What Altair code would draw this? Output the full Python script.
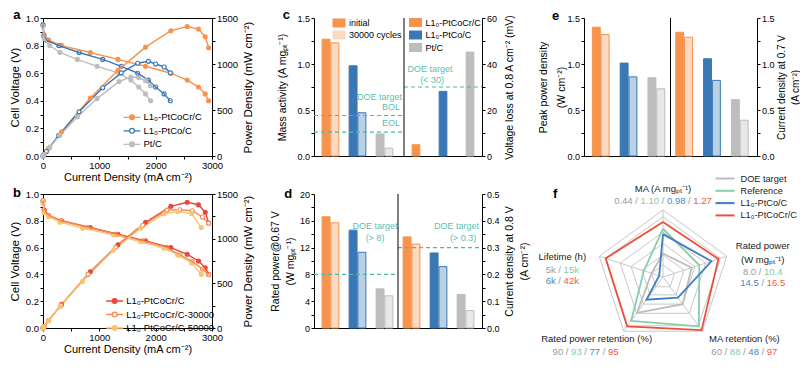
import altair as alt
import numpy as np
import pandas as pd

FONT = "Liberation Sans"

ORANGE = "#F7934C"
BLUE = "#3A77B5"
GRAY = "#BDBDBD"
TEAL = "#4DB8A7"
TEAL_TXT = "#5CC0B1"
RED_B = "#E8493B"
ORG_B = "#F58C55"
YEL_B = "#F9C46F"
R_GRID = "#C8C8C8"
R_GRAY = "#BDBDBD"
R_GREEN = "#86CFAA"
R_BLUE = "#3F7EC4"
R_RED = "#EE4F3B"
T_GRAY = "#9A9A9A"
T_GREEN = "#82CCA6"
T_BLUE = "#4A86C8"
T_RED = "#EE5A45"

# ------------------------------------------------------------------ data
catalysts = ["L1₀-PtCoCr/C", "L1₀-PtCo/C", "Pt/C"]
aging = ["L1₀-PtCoCr/C", "L1₀-PtCoCr/C-30000", "L1₀-PtCoCr/C-50000"]

# panel a / b polarization + power density curves
ptcocr_i = [0, 20, 100, 330, 840, 1330, 1820, 2270, 2560, 2760, 2880, 2940]
ptcocr_v = [0.95, 0.88, 0.84, 0.80, 0.75, 0.70, 0.65, 0.60, 0.55, 0.50, 0.45, 0.40]
ptcocr_p = [0, 18, 84, 264, 630, 931, 1183, 1362, 1408, 1380, 1296, 1176]
ptco_i = [0, 15, 60, 280, 640, 1060, 1390, 1680, 1870, 2000, 2150, 2260]
ptco_v = [0.95, 0.87, 0.84, 0.80, 0.75, 0.70, 0.65, 0.60, 0.55, 0.50, 0.45, 0.40]
ptco_p = [0, 13, 50, 224, 480, 742, 904, 1008, 1029, 1000, 968, 904]
pt_i = [0, 20, 120, 300, 610, 960, 1350, 1560, 1700, 1820, 1910]
pt_v = [0.94, 0.85, 0.80, 0.75, 0.70, 0.65, 0.60, 0.55, 0.50, 0.45, 0.40]
pt_p = [0, 17, 96, 225, 427, 624, 810, 858, 850, 819, 764]
c30k_i = [0, 20, 100, 320, 800, 1290, 1770, 2200, 2430, 2650, 2830, 2940]
c30k_v = [0.95, 0.87, 0.84, 0.80, 0.75, 0.70, 0.65, 0.60, 0.545, 0.495, 0.44, 0.40]
c30k_p = [0, 17, 84, 256, 600, 903, 1151, 1320, 1324, 1313, 1243, 1173]
c50k_i = [0, 20, 100, 300, 700, 1250, 1730, 2150, 2390, 2640, 2810]
c50k_v = [0.93, 0.86, 0.83, 0.79, 0.745, 0.695, 0.645, 0.595, 0.545, 0.485, 0.40]
c50k_p = [0, 17, 83, 237, 522, 869, 1116, 1279, 1303, 1280, 1124]

# panel c
ma_initial = [1.27, 0.98, 0.24]
ma_30k = [1.23, 0.47, 0.085]
vloss = [4.9, 28.1, 45.2]
ma_doe = [0.44, 0.26]
vloss_doe = [30]
# panel d
rated_initial = [16.6, 14.6, 5.85]
rated_30k = [15.7, 11.3, 4.8]
j08_initial = [0.34, 0.28, 0.125]
j08_30k = [0.313, 0.229, 0.065]
rated_doe = [8]
j08_doe = [0.3]
# panel e
ppd_initial = [1.40, 1.01, 0.85]
ppd_30k = [1.32, 0.86, 0.73]
j07_initial = [1.345, 1.057, 0.613]
j07_30k = [1.291, 0.822, 0.389]

# panel f radar (normalised radius per axis)
radar_axes = ["MA", "Rated power", "MA retention", "Rated power retention", "Lifetime"]
radar_angles = [90, 18, -54, -126, 162]
radar_series = ["DOE target", "Reference", "L1₀-PtCo/C", "L1₀-PtCoCr/C"]
r_doe = [0.35, 0.45, 0.5, 0.66, 0.18]
r_ref = [0.72, 0.57, 0.91, 0.81, 0.30]
r_ptco = [0.64, 0.76, 0.38, 0.42, 0.06]
r_ptcocr = [0.82, 0.87, 0.98, 0.91, 0.90]
grid_levels = [0.18, 0.33, 0.5, 0.67, 0.9, 1.0]
val_ma = ["0.44", "1.10", "0.98", "1.27"]
val_rp = ["8.0", "10.4", "14.5", "16.5"]
val_mar = ["60", "88", "48", "97"]
val_rpr = ["90", "93", "77", "95"]
val_life = ["5k", "15k", "6k", "42k"]


# ------------------------------------------------------------------ helpers
def num_axis(orient, values, step, fmt, title, tp, title_fs, label_fs, right=False, lh=None,
             tx=None, ty=None):
    expr = (f"abs(datum.value/{step} - round(datum.value/{step})) < 1e-6 ? "
            f"format(datum.value, '{fmt}') : ''")
    kw = dict(orient=orient, values=values, labelExpr=expr, title=title, titlePadding=tp,
              titleFontSize=title_fs, labelFontSize=label_fs, labelFlush=False,
              labelOverlap=False)
    if right:
        kw.update(titleAngle=-90, titleBaseline="top")
    if lh:
        kw["titleLineHeight"] = lh
    if tx is not None:
        kw.update(titleX=tx, titleY=ty, titleAlign="center", titleAngle=-90,
                  titleBaseline="top" if right else "bottom")
    return alt.Axis(**kw)


def letter(ch, x, y):
    return alt.Chart(pd.DataFrame({"t": [ch]})).mark_text(
        font=FONT, fontSize=13, fontWeight="bold", align="left",
        baseline="alphabetic", color="black"
    ).encode(x=alt.value(x), y=alt.value(y), text="t:N")


LINE_SYM = ("M-1.62,0L-0.46,0M0.46,0L1.62,0M-0.46,0A0.46,0.46 0 1 0 0.46,0"
            "A0.46,0.46 0 1 0 -0.46,0Z")
RECT_SYM = "M-1.3,-0.9H1.3V0.9H-1.3Z"


def curves_df(names, curves):
    rows = []
    for name, (I, V, P) in zip(names, curves):
        for i, v, p in zip(I, V, P):
            rows.append({"series": name, "I": i, "V": v, "P": p})
    return pd.DataFrame(rows)


def polar_panel(df, names, strokes, fills, H, let, let_xy, leg_xy):
    ss = alt.Scale(domain=names, range=strokes)
    fs = alt.Scale(domain=names, range=fills)
    leg = alt.Legend(orient="none", legendX=leg_xy[0], legendY=leg_xy[1], title=None,
                     symbolType=LINE_SYM, symbolSize=110, symbolStrokeWidth=1.3,
                     labelFontSize=9.5, labelOffset=5.5, rowPadding=1.5, padding=0,
                     labelColor="black")
    x = alt.X("I:Q", scale=alt.Scale(domain=[0, 3000], nice=False),
              axis=num_axis("bottom", list(range(0, 3001, 500)), 1000, "d",
                            "Current Density (mA cm⁻²)", 1.5, 11, 9.5))
    vs = alt.Scale(domain=[0, 1], nice=False)
    ps = alt.Scale(domain=[0, 1500], nice=False)
    yv = alt.Y("V:Q", scale=vs,
               axis=num_axis("left", [round(0.1 * i, 1) for i in range(11)], 0.2, ".1f",
                             "Cell Voltage (V)", 5, 11.5, 9.5))
    yv0 = alt.Y("V:Q", scale=vs, axis=None)
    yp = alt.Y("P:Q", scale=ps,
               axis=num_axis("right", list(range(0, 1501, 250)), 500, "d",
                             "Power Density (mW cm⁻²)", 4.5, 11.5, 9.5, right=True))
    yp0 = alt.Y("P:Q", scale=ps, axis=None)
    base = alt.Chart(df)

    def pts(y):
        return base.mark_point(shape="circle", filled=True, size=16, strokeWidth=1.1,
                               opacity=1).encode(
            x=x, y=y,
            stroke=alt.Stroke("series:N", scale=ss, legend=leg),
            fill=alt.Fill("series:N", scale=fs, legend=leg))

    def lines(y):
        return base.mark_line(strokeWidth=1.4).encode(
            x=x, y=y, stroke=alt.Stroke("series:N", scale=ss, legend=leg))

    return alt.layer(pts(yv0), lines(yv), lines(yp), pts(yp0),
                     letter(let, *let_xy)).resolve_scale(y="independent").properties(
        width=169, height=H, view=alt.ViewBackground(stroke="black", strokeWidth=1))


SLOTS = ["L0", "L1", "L2", "R0", "R1", "R2"]
CONDS = ["initial", "30000 cycles"]
XSCALE = alt.Scale(domain=SLOTS, paddingInner=0.38, paddingOuter=0.3)
XAXIS = alt.Axis(labels=False, ticks=False, title=None, domain=True)
FILL_SCALE = alt.Scale(domain=catalysts, range=[ORANGE, BLUE, GRAY])
OP_SCALE = alt.Scale(domain=CONDS, range=[1.0, 0.35])
OFF_SCALE = alt.Scale(domain=CONDS, paddingInner=0.1)


def bar_df(side, init, after=None):
    rows = []
    for j, s in enumerate(catalysts):
        rows.append({"slot": f"{side}{j}", "series": s, "cond": CONDS[0], "value": init[j]})
        if after is not None:
            rows.append({"slot": f"{side}{j}", "series": s, "cond": CONDS[1], "value": after[j]})
    return pd.DataFrame(rows)


def bar_layer(df, yenc, paired=True, fill_legend=None, shift=0):
    enc = dict(x=alt.X("slot:N", scale=XSCALE, axis=XAXIS), y=yenc,
               fill=alt.Fill("series:N", scale=FILL_SCALE, legend=fill_legend),
               stroke=alt.Stroke("series:N", scale=FILL_SCALE, legend=fill_legend))
    if paired:
        enc["xOffset"] = alt.XOffset("cond:N", scale=OFF_SCALE)
        enc["fillOpacity"] = alt.FillOpacity("cond:N", scale=OP_SCALE, legend=None)
        mark = alt.Chart(df).mark_bar(strokeWidth=1)
    else:
        mark = alt.Chart(df).mark_bar(strokeWidth=1, width={"band": 0.46}, xOffset=shift)
    return mark.encode(**enc)


def doe_rule(vals, scale, x0, x1):
    return alt.Chart(pd.DataFrame({"value": vals})).mark_rule(
        color=TEAL, strokeDash=[4, 3], strokeWidth=1.2
    ).encode(y=alt.Y("value:Q", scale=scale, axis=None), x=alt.value(x0), x2=alt.value(x1))


def note(text, val, scale, x, dy, align="center"):
    return alt.Chart(pd.DataFrame({"value": [val]})).mark_text(
        font=FONT, fontSize=9, color=TEAL_TXT, align=align, baseline="middle", dy=dy
    ).encode(y=alt.Y("value:Q", scale=scale, axis=None), x=alt.value(x), text=alt.value(text))


def divider(x, H):
    return alt.Chart(pd.DataFrame({"d": [0]})).mark_rule(color="black", strokeWidth=1).encode(
        x=alt.value(x), y=alt.value(0), y2=alt.value(H))


ROW1_H = 138
ROW2_H = 134

# ------------------------------------------------------------------ panel a
df_a = curves_df(catalysts, [(ptcocr_i, ptcocr_v, ptcocr_p), (ptco_i, ptco_v, ptco_p),
                             (pt_i, pt_v, pt_p)])
pa = polar_panel(df_a, catalysts, [ORANGE, BLUE, GRAY], [ORANGE, "white", GRAY], ROW1_H,
                 "a", (-29.7, 1.3), (83, 93.3))

# ------------------------------------------------------------------ panel b
df_b = curves_df(aging, [(ptcocr_i, ptcocr_v, ptcocr_p), (c30k_i, c30k_v, c30k_p),
                         (c50k_i, c50k_v, c50k_p)])
pb = polar_panel(df_b, aging, [RED_B, ORG_B, YEL_B], [RED_B, "white", YEL_B], ROW2_H,
                 "b", (-30, 3), (65.7, 101))

# ------------------------------------------------------------------ panel c
Wc, Hc = 168, ROW1_H
DIV_C = 90
sc_l = alt.Scale(domain=[0, 1.5], nice=False)
sc_r = alt.Scale(domain=[0, 60], nice=False)
yl = alt.Y("value:Q", scale=sc_l,
           axis=num_axis("left", [0.25 * i for i in range(7)], 0.5, ".1f",
                         "Mass activity (A mgₚₜ⁻¹)", 9, 10.5, 9, tx=-27, ty=Hc / 2))
yr = alt.Y("value:Q", scale=sc_r,
           axis=num_axis("right", list(range(0, 61, 10)), 20, "d",
                         "Voltage loss at 0.8 A cm⁻² (mV)", 7, 10.5, 9, right=True,
                         tx=22, ty=Hc / 2))
op_leg = alt.Legend(orient="none", legendX=19.5, legendY=-0.5, title=None,
                    symbolType=RECT_SYM, symbolSize=100, symbolFillColor=ORANGE,
                    symbolStrokeColor=ORANGE, symbolStrokeWidth=1, labelFontSize=9,
                    labelOffset=4.5, rowPadding=-4.5, padding=0, labelColor="black")
fill_leg = alt.Legend(orient="none", legendX=DIV_C + 6.5, legendY=-0.5, title=None,
                      symbolType=RECT_SYM, symbolSize=100, symbolStrokeWidth=0,
                      labelFontSize=9, labelOffset=5, rowPadding=2.5, padding=0,
                      labelColor="black")
op_key = alt.Chart(pd.DataFrame({"cond": CONDS})).mark_point(
    filled=True, size=0, color=ORANGE
).encode(x=alt.value(0), y=alt.value(0),
         opacity=alt.Opacity("cond:N", scale=OP_SCALE, legend=op_leg))
pc = alt.layer(
    bar_layer(bar_df("L", ma_initial, ma_30k), yl, True, fill_leg),
    bar_layer(bar_df("R", vloss), yr, False, fill_leg, shift=4.5),
    doe_rule(ma_doe, sc_l, 0, DIV_C),
    note("DOE target", ma_doe[0], sc_l, DIV_C - 2, -19, "right"),
    note("BOL", ma_doe[0], sc_l, DIV_C - 4, -9, "right"),
    note("EOL", ma_doe[1], sc_l, DIV_C - 4, -8.7, "right"),
    doe_rule(vloss_doe, sc_r, DIV_C, Wc),
    note("DOE target", vloss_doe[0], sc_r, DIV_C + 26, -18),
    note("(< 30)", vloss_doe[0], sc_r, DIV_C + 28, -7.5),
    divider(DIV_C, Hc),
    op_key,
    letter("c", -31.3, 1.3),
).resolve_scale(y="independent").properties(width=Wc, height=Hc)

# ------------------------------------------------------------------ panel d
Wd, Hd = 168, ROW2_H
sd_l = alt.Scale(domain=[0, 20], nice=False)
sd_r = alt.Scale(domain=[0, 0.5], nice=False)
ydl = alt.Y("value:Q", scale=sd_l,
            axis=num_axis("left", list(range(0, 21, 2)), 4, "d",
                          ["Rated power@0.67 V", "(W mgₚₜ⁻¹)"], 4, 10.5, 9, lh=15,
                          tx=-33.5, ty=Hd / 2))
ydr = alt.Y("value:Q", scale=sd_r,
            axis=num_axis("right", [round(0.05 * i, 2) for i in range(11)], 0.1, ".1f",
                          ["Current density at 0.8 V", "(A cm⁻²)"], 4, 10.5, 9,
                          right=True, lh=15, tx=22.5, ty=Hd / 2))
pdd = alt.layer(
    bar_layer(bar_df("L", rated_initial, rated_30k), ydl),
    bar_layer(bar_df("R", j08_initial, j08_30k), ydr),
    doe_rule(rated_doe, sd_l, 0, Wd / 2),
    note("DOE target", rated_doe[0], sd_l, 61, -48),
    note("(> 8)", rated_doe[0], sd_l, 61, -36),
    doe_rule(j08_doe, sd_r, Wd / 2, Wd),
    note("DOE target", j08_doe[0], sd_r, Wd / 2 + 58.6, -22),
    note("(> 0.3)", j08_doe[0], sd_r, Wd / 2 + 65, -10),
    divider(Wd / 2, Hd),
    letter("d", -29.7, 3.5),
).resolve_scale(y="independent").properties(width=Wd, height=Hd)

# ------------------------------------------------------------------ panel e
We, He = 173, ROW1_H
se = alt.Scale(domain=[0, 1.5], nice=False)
se2 = alt.Scale(domain=[0, 1.5], nice=False)
yel = alt.Y("value:Q", scale=se,
            axis=num_axis("left", [0.25 * i for i in range(7)], 0.5, ".1f",
                          ["Peak power density", "(W cm⁻²)"], 3, 10.5, 9, lh=18,
                          tx=-35.75, ty=He / 2))
yer = alt.Y("value:Q", scale=se2,
            axis=num_axis("right", [0.25 * i for i in range(7)], 0.5, ".1f",
                          ["Current density at 0.7 V", "(A cm⁻²)"], 1, 10, 9,
                          right=True, lh=14, tx=19, ty=He / 2))
pe = alt.layer(
    bar_layer(bar_df("L", ppd_initial, ppd_30k), yel),
    bar_layer(bar_df("R", j07_initial, j07_30k), yer),
    divider(We / 2, He),
    letter("e", -32, 2),
).resolve_scale(y="independent").properties(width=We, height=He)

# ------------------------------------------------------------------ panel f (radar)
Wf, Hf = 173, ROW2_H
R_PX = 67.0
CX, CY = 79.0, 83.0
fx = alt.Scale(domain=[-CX / R_PX, (Wf - CX) / R_PX], nice=False, zero=False)
fy = alt.Scale(domain=[-(Hf - CY) / R_PX, CY / R_PX], nice=False, zero=False)
ang = np.deg2rad(radar_angles)
vx, vy = np.cos(ang), np.sin(ang)

ring_rows = []
for lv in grid_levels:
    for k in range(6):
        ring_rows.append({"ring": lv, "k": k, "x": lv * vx[k % 5], "y": lv * vy[k % 5]})
ring_df = pd.DataFrame(ring_rows)
spoke_df = pd.DataFrame({"x": 0.0, "y": 0.0, "x2": vx, "y2": vy})

poly_rows = []
for name, rad in zip(radar_series, [r_doe, r_ref, r_ptco, r_ptcocr]):
    for k in range(6):
        poly_rows.append({"series": name, "k": k, "x": rad[k % 5] * vx[k % 5],
                          "y": rad[k % 5] * vy[k % 5]})
poly_df = pd.DataFrame(poly_rows)

LBL_FS = 9.5
# (axis index, dx px, dy px, text)
title_specs = [
    (0, 0, -21, "MA (A mgₚₜ⁻¹)"),
    (1, 36, -9.8, "Rated power"),
    (1, 36, 4.2, "(W mgₚₜ⁻¹)"),
    (2, 42, 8, "MA retention (%)"),
    (3, -27, 8, "Rated power retention (%)"),
    (4, -37, 0.5, "Lifetime (h)"),
]
title_df = pd.DataFrame([{"x": vx[i] + dx / R_PX, "y": vy[i] - dy / R_PX, "t": t}
                         for i, dx, dy, t in title_specs])

val_colors = [T_GRAY, T_GREEN, T_BLUE, T_RED]
value_specs = [
    (0, 0, -9, list(zip(val_ma, val_colors))),
    (1, 36, 15.7, list(zip(val_rp[:2], val_colors[:2]))),
    (1, 36, 27.2, list(zip(val_rp[2:], val_colors[2:]))),
    (2, 42, 20.5, list(zip(val_mar, val_colors))),
    (3, -38, 20.5, list(zip(val_rpr, val_colors))),
    (4, -37, 13.5, list(zip(val_life[:2], val_colors[:2]))),
    (4, -37, 24.5, list(zip(val_life[2:], val_colors[2:]))),
]
EM = {".": 0.278, " ": 0.278, "/": 0.278, "k": 0.5}


def tw(s):
    return sum(EM.get(ch, 0.556) for ch in s) * LBL_FS


seg_rows = []
sep_w = tw(" / ")
for i, dx, dy, items in value_specs:
    total = sum(tw(t) for t, _ in items) + sep_w * (len(items) - 1)
    cur = dx - total / 2
    for j, (t, col) in enumerate(items):
        if j > 0:
            seg_rows.append({"x": vx[i] + (cur + tw(" ")) / R_PX, "y": vy[i] - dy / R_PX,
                             "t": "/", "c": T_GRAY})
            cur += sep_w
        seg_rows.append({"x": vx[i] + cur / R_PX, "y": vy[i] - dy / R_PX, "t": t, "c": col})
        cur += tw(t)
seg_df = pd.DataFrame(seg_rows)

FX = lambda f: alt.X(f, scale=fx, axis=None)
FY = lambda f: alt.Y(f, scale=fy, axis=None)

rings = alt.Chart(ring_df).mark_line(color=R_GRID, strokeWidth=1).encode(
    x=FX("x:Q"), y=FY("y:Q"), detail="ring:N", order="k:Q")
spokes = alt.Chart(spoke_df).mark_rule(color=R_GRID, strokeWidth=1).encode(
    x=FX("x:Q"), y=FY("y:Q"), x2="x2:Q", y2="y2:Q")
f_leg = alt.Legend(orient="none", legendX=135, legendY=-21.5, title=None,
                   symbolType="M-1.9,0H1.9", symbolSize=100, symbolStrokeWidth=2,
                   labelFontSize=9.2, labelOffset=9.5, rowPadding=0.3, padding=0,
                   labelColor="#222222")
polys = alt.Chart(poly_df).mark_line(strokeWidth=1.8).encode(
    x=FX("x:Q"), y=FY("y:Q"), order="k:Q",
    stroke=alt.Stroke("series:N", scale=alt.Scale(domain=radar_series,
                                                   range=[R_GRAY, R_GREEN, R_BLUE, R_RED]),
                      legend=f_leg))
titles = alt.Chart(title_df).mark_text(font=FONT, fontSize=LBL_FS, color="#222222",
                                       align="center", baseline="middle").encode(
    x=FX("x:Q"), y=FY("y:Q"), text="t:N")
segs = alt.Chart(seg_df).mark_text(font=FONT, fontSize=LBL_FS, align="left",
                                   baseline="middle").encode(
    x=FX("x:Q"), y=FY("y:Q"), text="t:N", color=alt.Color("c:N", scale=None))
pf = alt.layer(rings, spokes, polys, titles, segs, letter("f", -31, 3.5)).properties(
    width=Wf, height=Hf)

# ------------------------------------------------------------------ assemble
chart = alt.concat(pa, pc, pe, pb, pdd, pf, columns=3,
                   spacing={"row": 38, "column": 102}, bounds="flush", align="each")
chart = chart.resolve_scale(stroke="independent", fill="independent",
                            fillOpacity="independent", opacity="independent",
                            color="independent")
chart = chart.properties(padding={"left": 0, "top": 0, "right": 0, "bottom": 0},
                         background="white")
chart = chart.configure(font=FONT).configure_view(stroke=None).configure_axis(
    domainColor="black", domainWidth=1, tickColor="black", tickSize=3, tickWidth=1,
    labelColor="black", titleColor="black", labelFont=FONT, titleFont=FONT,
    titleFontWeight="normal", grid=False, labelPadding=1.5
).configure_legend(labelFont=FONT)

chart.save("out.html", embed_options={"renderer": "svg", "actions": False})
